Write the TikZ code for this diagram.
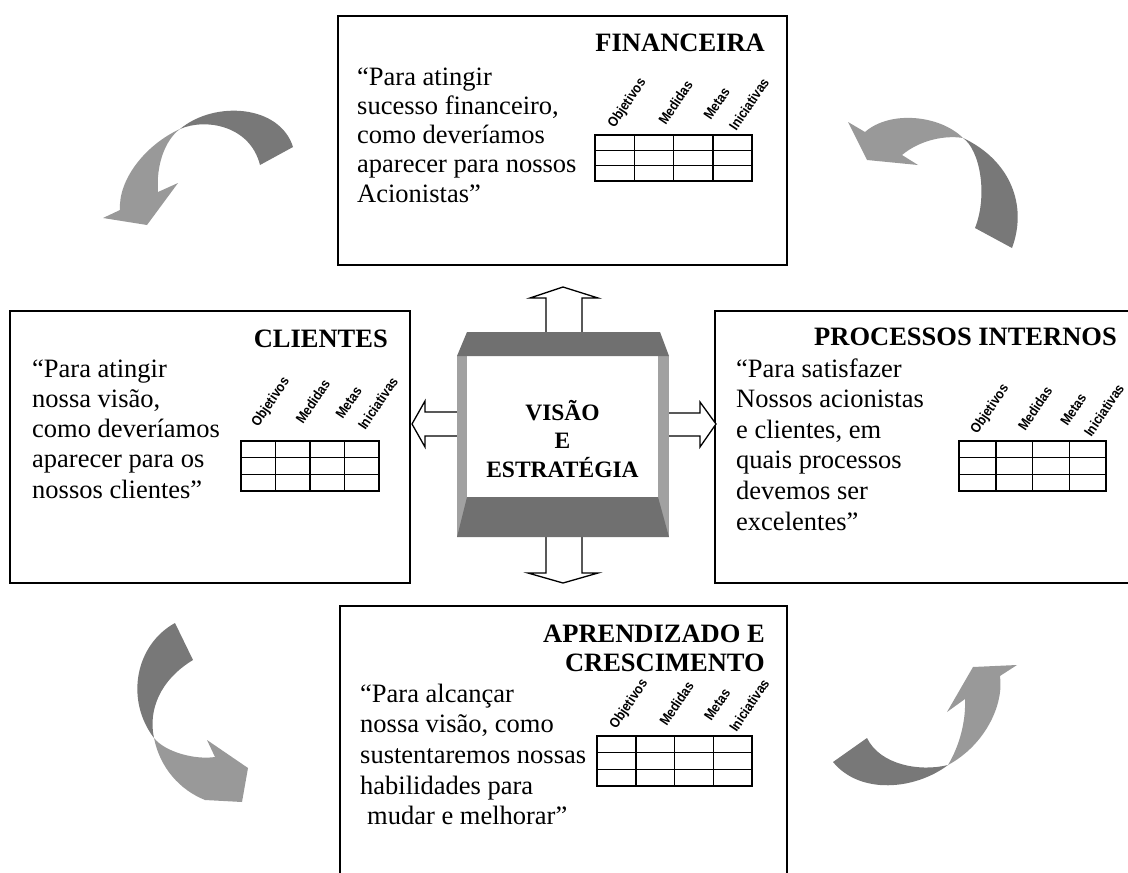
\documentclass[tikz,border=0pt]{standalone}
\usepackage{fontspec}
\usepackage{graphicx}
\setmainfont{Liberation Serif}
\newfontfamily\labelfont{Liberation Sans}
\newcommand{\lines}[2]{\begin{tabular}[t]{@{}#1@{}}#2\end{tabular}}
\newcommand{\narrow}[1]{\scalebox{0.88}[1]{#1}}
% scorecard table: #1 name, #2/#3 top-left corner, #4 column width, #5 row height, #6 label shift
\newcommand{\kpitable}[6]{%
  \draw[grid] (#2,#3) rectangle ({#2+4*#4},{#3+3*#5});
  \foreach \i in {1,2,3} \draw[grid] ({#2+\i*#4},#3) -- ({#2+\i*#4},{#3+3*#5});
  \foreach \j in {1,2} \draw[grid] (#2,{#3+\j*#5}) -- ({#2+4*#4},{#3+\j*#5});
  \node[lbl] (#1-obj) at ({#2+0.5*#4},{#3-6+#6}) {\narrow{Objetivos}};
  \node[lbl] (#1-med) at ({#2+1.8*#4},{#3-9+#6}) {\narrow{Medidas}};
  \node[lbl] (#1-met) at ({#2+2.95*#4},{#3-14+#6}) {\narrow{Metas}};
  \node[lbl] (#1-ini) at ({#2+3.6*#4},{#3-3+#6}) {\narrow{Iniciativas}};
}
\begin{document}
\begin{tikzpicture}[x=1pt,y=-1pt,
  panel/.style={draw=black,line width=2pt,fill=white,inner sep=0pt},
  title/.style={font=\bfseries\fontsize{26.5}{29.5}\selectfont,inner sep=0pt,anchor=base east},
  quote/.style={font=\fontsize{26.5}{30.3}\selectfont,inner sep=0pt,anchor=base west},
  lbl/.style={font=\labelfont\bfseries\fontsize{14}{14}\selectfont,inner sep=0pt,anchor=base west,rotate=56},
  grid/.style={draw=black,line width=1.5pt},
  blockarrow/.style={draw=black,line width=1.3pt,fill=white,line join=miter},
  rdark/.style={fill=black!53},
  rlight/.style={fill=black!40},
  frameside/.style={fill=black!37},
  framecap/.style={fill=black!56}]
\useasboundingbox (0,0) rectangle (1128,873);
\begin{scope}
\clip (0,0) rectangle (1128,873);

% four perspective panels
\node[panel,minimum width=449pt,minimum height=249pt] (fin) at (562.5,140.5) {};
\node[panel,minimum width=400pt,minimum height=272pt] (cli) at (210,447) {};
\node[panel,minimum width=425pt,minimum height=272pt] (proc) at (927.5,447) {};
\node[panel,minimum width=447pt,minimum height=300pt] (apr) at (563,756) {};

% titles
\node[title] (finT) at (765,51) {FINANCEIRA};
\node[title] (cliT) at (388,347) {CLIENTES};
\node[title] (procT) at (1117,345) {PROCESSOS INTERNOS};
\node[title] (aprT) at (765,642) {\lines{r}{APRENDIZADO E\\CRESCIMENTO}};

% guiding questions
\node[quote,font=\fontsize{26.5}{29.3}\selectfont] (finQ) at (357,85)
  {\lines{l}{“Para atingir\\sucesso financeiro,\\como deveríamos\\aparecer para nossos\\Acionistas”}};
\node[quote] (cliQ) at (32,377)
  {\lines{l}{“Para atingir\\nossa visão,\\como deveríamos\\aparecer para os\\nossos clientes”}};
\node[quote,font=\fontsize{26.5}{30.6}\selectfont] (procQ) at (736,377)
  {\lines{l}{“Para satisfazer\\Nossos acionistas\\e clientes, em\\quais processos\\devemos ser\\excelentes”}};
\node[quote,font=\fontsize{26.5}{30.7}\selectfont] (aprQ) at (360,702)
  {\lines{l}{“Para alcançar\\nossa visão, como\\sustentaremos nossas\\habilidades para\\\hspace{7pt}mudar e melhorar”}};

% scorecard tables
\kpitable{finTab}{595}{135}{39.25}{15.3}{0}
\kpitable{cliTab}{241}{441}{34.5}{16.7}{-7}
\kpitable{procTab}{959}{441}{36.75}{16.7}{0}
\kpitable{aprTab}{597}{736}{38.75}{16.7}{0}

% hollow block arrows leaving the centre
\draw[blockarrow] (546,334) -- (546,298) -- (530,298) -- (563,287) -- (598,298) -- (582,298) -- (582,334) -- cycle;
\draw[blockarrow] (546,536) -- (546,573) -- (528,573) -- (563,583) -- (598,573) -- (582,573) -- (582,536) -- cycle;
\draw[blockarrow] (458,412) -- (425,412) -- (425,401) -- (412,424) -- (425,447) -- (425,436) -- (458,436) -- cycle;
\draw[blockarrow] (668,413) -- (700,413) -- (700,402) -- (716,424) -- (700,447) -- (700,436) -- (668,436) -- cycle;

% central vision frame
\fill[frameside] (457,356) rectangle (669,537);
\fill[white] (467,356) rectangle (658,497);
\fill[framecap] (467,332) -- (660,332) -- (669,356) -- (457,356) -- cycle;
\fill[framecap] (467,497) -- (658,497) -- (669,537) -- (457,537) -- cycle;
\node[font=\bfseries\fontsize{23.5}{28.5}\selectfont,inner sep=0pt,anchor=base] (vision) at (562.5,420)
  {\lines{c}{VISÃO\\E\\ESTRATÉGIA}};

% twisted ribbon arrows around the panels
% upper left
\fill[rdark] (293,147) .. controls (280,105) and (215,100) .. (180,129)
  .. controls (205,118) and (250,125) .. (260,165) -- cycle;
\fill[rlight] (180,129) .. controls (145,145) and (118,180) .. (120,210) -- (103,218) -- (147,225)
  -- (178,183) -- (158,192) .. controls (156,165) and (165,140) .. (180,129) -- cycle;
% upper right
\fill[rdark] (1012,248) .. controls (1028,205) and (1010,160) .. (963,138)
  .. controls (980,150) and (988,195) .. (975,228) -- cycle;
\fill[rlight] (963,138) .. controls (940,115) and (890,110) .. (865,132) -- (848,122) -- (867,160)
  -- (918,165) -- (902,155) .. controls (920,140) and (945,135) .. (963,138) -- cycle;
% lower left
\fill[rdark] (175,623) .. controls (135,645) and (125,700) .. (154,738)
  .. controls (148,710) and (160,680) .. (193,660) -- cycle;
\fill[rlight] (154,738) .. controls (165,752) and (195,760) .. (215,757) -- (207,740) -- (248,768)
  -- (242,802) -- (205,800) .. controls (180,790) and (160,768) .. (154,738) -- cycle;
% lower right
\fill[rdark] (867,738) .. controls (880,765) and (920,772) .. (948,765)
  .. controls (915,790) and (860,795) .. (833,762) -- cycle;
\fill[rlight] (948,765) .. controls (960,745) and (966,720) .. (965,699) -- (947,712) -- (973,667)
  -- (1017,665) -- (1000,676) .. controls (1004,705) and (985,745) .. (948,765) -- cycle;
\end{scope}
\end{tikzpicture}
\end{document}
